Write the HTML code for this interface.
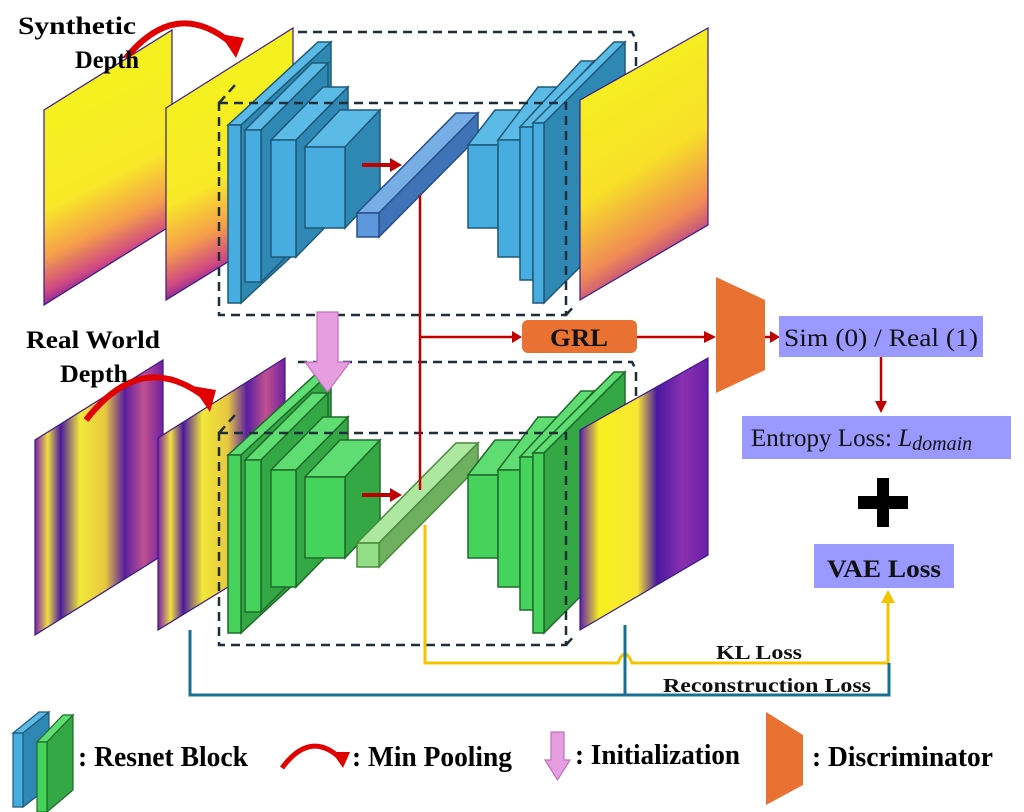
<!DOCTYPE html>
<html><head><meta charset="utf-8"><style>
html,body{margin:0;padding:0;background:#fff;}
svg{display:block;}
text{font-family:"Liberation Serif",serif;}
</style></head><body>
<svg id="s" width="1024" height="812" viewBox="0 0 1024 812" xmlns="http://www.w3.org/2000/svg">
<defs>
<linearGradient id="syn" x1="0" y1="0.35" x2="0.15" y2="1">
<stop offset="0" stop-color="#f5f020"/><stop offset="0.45" stop-color="#f8e828"/><stop offset="0.7" stop-color="#f6a04a"/><stop offset="0.88" stop-color="#d04a80"/><stop offset="1" stop-color="#6a1aa0"/>
</linearGradient>
<linearGradient id="real" x1="0" y1="0" x2="1" y2="0">
<stop offset="0" stop-color="#7a20a8"/><stop offset="0.1" stop-color="#f0e040"/><stop offset="0.2" stop-color="#4a18a0"/><stop offset="0.35" stop-color="#f2e838"/><stop offset="0.55" stop-color="#e8c840"/><stop offset="0.7" stop-color="#5a1ea0"/><stop offset="0.85" stop-color="#c05090"/><stop offset="1" stop-color="#7020a0"/>
</linearGradient>
<linearGradient id="out2" x1="0" y1="0" x2="1" y2="0">
<stop offset="0" stop-color="#6020a8"/><stop offset="0.15" stop-color="#f8f020"/><stop offset="0.45" stop-color="#f8e830"/><stop offset="0.6" stop-color="#4a18a0"/><stop offset="0.8" stop-color="#8a30b0"/><stop offset="1" stop-color="#6a20a8"/>
</linearGradient>
<linearGradient id="out1" x1="0" y1="0" x2="0.3" y2="1">
<stop offset="0" stop-color="#8020b0"/><stop offset="0.2" stop-color="#f5f020"/><stop offset="0.6" stop-color="#f8e028"/><stop offset="0.85" stop-color="#f08a55"/><stop offset="1" stop-color="#a83098"/>
</linearGradient>
</defs>
<g id="g"></g>

<!-- titles -->
<text x="18" y="34" font-size="25" font-weight="bold" textLength="118" lengthAdjust="spacingAndGlyphs">Synthetic</text>
<text x="75" y="68" font-size="25" font-weight="bold" textLength="64" lengthAdjust="spacingAndGlyphs">Depth</text>
<text x="26" y="348" font-size="25" font-weight="bold" textLength="134" lengthAdjust="spacingAndGlyphs">Real World</text>
<text x="60" y="382" font-size="25" font-weight="bold" textLength="68" lengthAdjust="spacingAndGlyphs">Depth</text>

<!-- GRL & discriminator -->
<rect x="522" y="320" width="115" height="33" rx="6" fill="#e97132"/>
<text x="579" y="346" font-size="25" font-weight="bold" text-anchor="middle" fill="#111" textLength="58" lengthAdjust="spacingAndGlyphs">GRL</text>
<polygon points="716,277 765,300 765,370 716,393" fill="#e97132"/>
<rect x="779" y="316" width="204" height="41" fill="#9999ff"/>
<text x="881" y="346" font-size="25" text-anchor="middle" fill="#111" textLength="194" lengthAdjust="spacingAndGlyphs">Sim (0) / Real (1)</text>
<rect x="742" y="416" width="269" height="43" fill="#9999ff"/>
<text x="751" y="446" font-size="25" fill="#111">Entropy Loss: <tspan font-style="italic">L</tspan><tspan font-style="italic" font-size="20" dy="4">domain</tspan></text>
<rect x="858" y="496" width="50" height="13" fill="#000"/>
<rect x="877" y="478" width="12" height="49" fill="#000"/>
<rect x="814" y="544" width="140" height="44" fill="#9999ff"/>
<text x="884" y="577" font-size="25" font-weight="bold" text-anchor="middle" fill="#111" textLength="114" lengthAdjust="spacingAndGlyphs">VAE Loss</text>
<text x="716" y="659" font-size="20" font-weight="bold" fill="#111" textLength="86" lengthAdjust="spacingAndGlyphs">KL Loss</text>
<text x="663" y="692" font-size="20" font-weight="bold" fill="#111" textLength="208" lengthAdjust="spacingAndGlyphs">Reconstruction Loss</text>

<!-- legend text -->
<text x="78" y="766" font-size="28" font-weight="bold" textLength="170" lengthAdjust="spacingAndGlyphs">: Resnet Block</text>
<text x="352" y="766" font-size="28" font-weight="bold" textLength="160" lengthAdjust="spacingAndGlyphs">: Min Pooling</text>
<text x="575" y="764" font-size="28" font-weight="bold" textLength="165" lengthAdjust="spacingAndGlyphs">: Initialization</text>
<text x="812" y="766" font-size="28" font-weight="bold" textLength="181" lengthAdjust="spacingAndGlyphs">: Discriminator</text>
</svg>
<script>
var g=document.getElementById('g'),h='';
function P(pts,f,s,sw,extra){h+='<polygon points="'+pts+'" fill="'+f+'" stroke="'+(s||'none')+'" stroke-width="'+(sw||1.5)+'" '+(extra||'')+'/>';}
function L(d,c,w,extra){h+='<path d="'+d+'" fill="none" stroke="'+c+'" stroke-width="'+w+'" '+(extra||'')+'/>';}
function box(x,y,w,hh,dx,dy,c){
 P(x+','+y+' '+(x+dx)+','+(y+dy)+' '+(x+w+dx)+','+(y+dy)+' '+(x+w)+','+y,c[2],c[3]);
 P((x+w)+','+y+' '+(x+w+dx)+','+(y+dy)+' '+(x+w+dx)+','+(y+hh+dy)+' '+(x+w)+','+(y+hh),c[1],c[3]);
 P(x+','+y+' '+(x+w)+','+y+' '+(x+w)+','+(y+hh)+' '+x+','+(y+hh),c[0],c[3]);
}
function par(l,lt,lb,r,rt,rb,f){P(l+','+lt+' '+r+','+rt+' '+r+','+rb+' '+l+','+lb,f,'#3a1a8a',1.2);}
var blue=['#47ade0','#2f87b3','#5cbbe6','#1d5a78'],green=['#46d35c','#33a845','#5fdc72','#1e6b2a'];
var bb=['#5d97dc','#3f73b8','#78aee6','#2a4f8a'],gb=['#92dd85','#6fb060','#aee8a0','#4a8a3a'];
function branch(o,c,cb,img1,img2,out){
 par(44-(o?9:0),110+o,305+o,172-(o?9:0),30+o,225+o,img1);
 par(166-(o?8:0),108+o,300+o,293-(o?8:0),28+o,222+o,img2);
 box(228,125+o,13,178,90,-83,c);
 box(245,130+o,16,152,67,-67,c);
 box(271,140+o,25,117,52,-53,c);
 box(305,147+o,40,81,35,-37,c);
 box(357,213+o,22,24,99,-100,cb);
 box(468,145+o,30,83,27,-35,c);
 box(498,140+o,22,117,40,-53,c);
 box(520,127+o,13,153,61,-66,c);
 box(533,123+o,11,180,81,-81,c);
 var d='stroke-dasharray="9,6"';
 L('M219 '+(103+o)+' H566 V'+(315+o)+' H219 Z','#1e2e3a',2.5,d);
 L('M298 '+(32+o)+' H632 L636 '+(40+o)+' V'+(238+o),'#1e2e3a',2.5,d);
 L('M566 '+(315+o)+' L576 '+(304+o),'#1e2e3a',2.5,d);
 L('M219 '+(103+o)+' L235 '+(85+o),'#1e2e3a',2.5,d);
 par(580,100+o,300+o,708,28+o,225+o,out);
 L('M362 '+(165+o)+' H392','#c00000',4);
 P('390,'+(158+o)+' 402,'+(165+o)+' 390,'+(172+o),'#c00000');
}
branch(0,blue,bb,'url(#syn)','url(#syn)','url(#out1)');
branch(330,green,gb,'url(#real)','url(#real)','url(#out2)');
// min pooling arcs
L('M126 58 Q175 -2 230 42','#e00000',6);
P('220,34 244,38 236,58','#e00000');
L('M86 420 Q140 350 202 395','#e00000',6);
P('192,386 216,390 210,412','#e00000');
// red vertical & to GRL
L('M420 195 V490','#c00000',2.5);
L('M420 337 H515','#c00000',2.5);
P('512,331 522,337 512,343','#c00000');
L('M637 337 H706','#c00000',2.5);
P('704,331 716,337 704,343','#c00000');
L('M765 337 H772','#c00000',2.5);
P('770,331 780,337 770,343','#c00000');
L('M881 357 V403','#c00000',2.5);
P('875,401 881,413 887,401','#c00000');
// pink init arrow
P('317,312 338,312 338,362 350,362 327.5,392 305,362 317,362','#e69ee0','#c070c0',1.2);
// yellow KL
L('M425 525 V663 H618 Q625 645 632 663 H888 V600','#f5c400',3);
P('881,603 888,590 895,603','#f5c400');
// blue recon
L('M190 630 V695 H889 V663','#1a7090',3);
L('M625 625 V695','#1a7090',3);
// legend
P('13,733 23,733 49,712 39,712','#5cbbe6','#1d5a78',1.2);
P('23,733 49,712 49,787 23,807','#2f87b3','#1d5a78',1.2);
P('13,733 23,733 23,807 13,807','#47ade0','#1d5a78',1.2);
P('37,742 47,742 73,715 63,715','#5fdc72','#1e6b2a',1.2);
P('47,742 73,715 73,790 47,812','#33a845','#1e6b2a',1.2);
P('37,742 47,742 47,812 37,812','#46d35c','#1e6b2a',1.2);
L('M282 768 Q310 730 340 758','#e00000',5);
P('332,752 350,752 343,768','#e00000');
P('551,732 564,732 564,760 570,760 557.5,780 545,760 551,760','#e69ee0','#c070c0',1.2);
P('766,712 803,735 803,785 766,805','#e97132');
g.innerHTML=h;
</script>
</body></html>
